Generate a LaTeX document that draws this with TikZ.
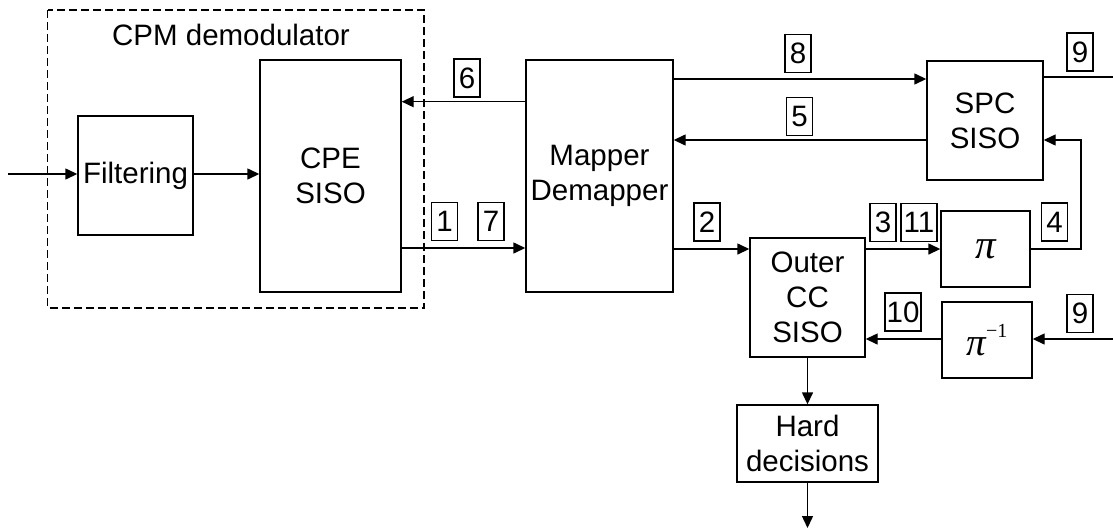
\documentclass[tikz,border=0pt]{standalone}
\usepackage{fontspec}
\setmainfont{Liberation Sans}
\newfontfamily\serifgr{Liberation Serif}
\usetikzlibrary{arrows.meta}
\begin{document}
\begin{tikzpicture}[x=1pt,y=-1pt,
  blk/.style={draw, line width=1.4pt, inner sep=0pt, align=center, font=\fontsize{29.5}{35}\selectfont},
  lbl/.style={draw, line width=1.2pt, minimum width=26pt, minimum height=38pt, inner sep=0pt, font=\fontsize{29.5}{35}\selectfont},
  arr/.style={line width=1.4pt, -{Triangle[length=12pt,width=11pt]}},
  ln/.style={line width=1.4pt}]
\useasboundingbox (0,0) rectangle (1113,531);
% dashed group
\draw[line width=1.2pt, dash pattern=on 8pt off 4pt] (47.5,10) rectangle (424,308);
\node[font=\fontsize{29.5}{35}\selectfont] (cpmlab) at (231,35) {CPM demodulator};
% blocks
\node[blk, minimum width=115pt, minimum height=119pt] (filt) at (135.5,175.5) {Filtering};
\node[blk, minimum width=141pt, minimum height=232pt] (cpe) at (330.5,176) {CPE\\SISO};
\node[blk, minimum width=147pt, minimum height=232pt] (map) at (599.5,176) {Mapper\\Demapper};
\node[blk, minimum width=116pt, minimum height=119pt] (spc) at (985,120.5) {SPC\\SISO};
\node[blk, minimum width=115pt, minimum height=119pt] (outer) at (807.5,297.5) {Outer\\CC\\SISO};
\node[blk, minimum width=89pt, minimum height=76pt] (pi) at (985.5,249) {{\serifgr\itshape\fontsize{41}{41}\selectfont π}};
\node[blk, minimum width=90pt, minimum height=76pt] (pinv) at (987,340) {{\serifgr\itshape\fontsize{39}{39}\selectfont π}\raisebox{18pt}{\serifgr\fontsize{20}{20}\selectfont −1}};
\node[blk, minimum width=141pt, minimum height=77pt] (hard) at (807.5,443.5) {Hard\\decisions};
% level coordinates
\coordinate (yin) at (0,174);
\coordinate (ysix) at (0,101.7);
\coordinate (yone) at (0,248);
\coordinate (ytwo) at (0,249);
\coordinate (yeight) at (0,79);
\coordinate (yfive) at (0,140);
\coordinate (ynine) at (0,77);
\coordinate (yten) at (0,339);
\coordinate (inL) at (8,174);
\coordinate (outR) at (1113,77);
\coordinate (inR) at (1113,339);
\coordinate (turn) at (1081,249);
\coordinate (hardout) at (807.5,528);
% connectors
\draw[arr] (inL) -- (filt.west |- yin);
\draw[arr] (filt.east |- yin) -- (cpe.west |- yin);
\draw[arr] (map.west |- ysix) -- (cpe.east |- ysix);
\draw[arr] (cpe.east |- yone) -- (map.west |- yone);
\draw[arr] (map.east |- ytwo) -- (outer.west |- ytwo);
\draw[arr] (outer.east |- ytwo) -- (pi.west);
\draw[arr] (pi.east) -- (turn) |- (spc.east |- yfive);
\draw[arr] (map.east |- yeight) -- (spc.west |- yeight);
\draw[arr] (spc.west |- yfive) -- (map.east |- yfive);
\draw[ln] (spc.east |- ynine) -- (outR);
\draw[arr] (inR) -- (pinv.east |- yten);
\draw[arr] (pinv.west |- yten) -- (outer.east |- yten);
\draw[arr] (outer.south) -- (hard.north);
\draw[arr] (hard.south) -- (hardout);
% labels
\node[lbl] (l6) at (467,78) {6};
\node[lbl] (l1) at (444.5,221.5) {1};
\node[lbl] (l7) at (491,221.5) {7};
\node[lbl] (l2) at (707,222) {2};
\node[lbl] (l3) at (883,222.5) {3};
\node[lbl, minimum width=36pt] (l11) at (919,222.5) {11};
\node[lbl] (l4) at (1054.5,222) {4};
\node[lbl] (l8) at (798,53.5) {8};
\node[lbl] (l5) at (799.5,116.5) {5};
\node[lbl] (l9a) at (1080,52) {9};
\node[lbl] (l9b) at (1080,313.5) {9};
\node[lbl, minimum width=36pt] (l10) at (903,312) {10};
\end{tikzpicture}
\end{document}
